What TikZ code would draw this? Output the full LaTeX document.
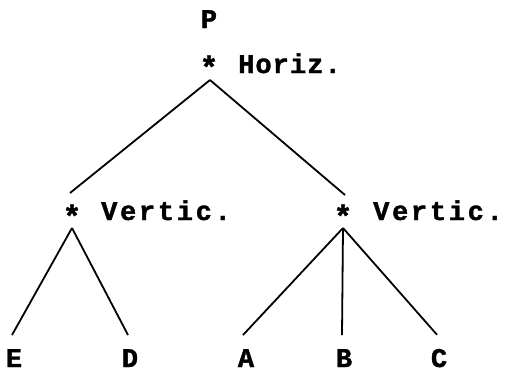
\documentclass[tikz,border=0pt]{standalone}
\usepackage{fontspec}
\setmonofont[FakeBold=1.5]{Liberation Mono}
\begin{document}
\begin{tikzpicture}[x=1pt,y=-1pt,
  lbl/.style={font=\ttfamily\bfseries\fontsize{27}{27}\selectfont, inner sep=0pt, anchor=base},
  ann/.style={font=\ttfamily\bfseries\fontsize{27}{27}\selectfont\addfontfeatures{LetterSpace=4}, inner sep=0pt, anchor=base west},
  annw/.style={font=\ttfamily\bfseries\fontsize{27}{27}\selectfont\addfontfeatures{LetterSpace=10}, inner sep=0pt, anchor=base west},
  starn/.style={font=\ttfamily\bfseries\fontsize{31}{31}\selectfont, inner sep=0pt, anchor=base},
  edge/.style={line width=1.8pt}]
\useasboundingbox (0,0) rectangle (505,376);
% labels
\node[lbl] (P) at (209,28) {P};
\node[lbl] (E) at (14,367) {E};
\node[lbl] (D) at (130,367) {D};
\node[lbl] (A) at (246,367) {A};
\node[lbl] (B) at (344,367) {B};
\node[lbl] (C) at (439,367) {C};
% stars
\node[starn] (ts) at (209,78) {*};
\node[starn] (ls) at (72,227) {*};
\node[starn] (rs) at (343,227) {*};
% annotations
\node[ann] (th) at (238,73) {Horiz.};
\node[annw] (lv) at (101,220) {Vertic.};
\node[annw] (rv) at (373,220) {Vertic.};
% apex coordinates
\coordinate (tA) at (210,80);
\coordinate (lT) at (70,193);
\coordinate (rT) at (345,195);
\coordinate (lA) at (72,228);
\coordinate (rA) at (343,228);
% edges
\draw[edge] (tA) -- (lT);
\draw[edge] (tA) -- (rT);
\draw[edge] (lA) -- ([xshift=-2pt,yshift=14pt]E.north);
\draw[edge] (lA) -- ([xshift=-2pt,yshift=14pt]D.north);
\draw[edge] (rA) -- ([xshift=-3pt,yshift=14pt]A.north);
\draw[edge] (rA) -- ([xshift=-2pt,yshift=14pt]B.north);
\draw[edge] (rA) -- ([xshift=-2pt,yshift=14pt]C.north);
\end{tikzpicture}
\end{document}
